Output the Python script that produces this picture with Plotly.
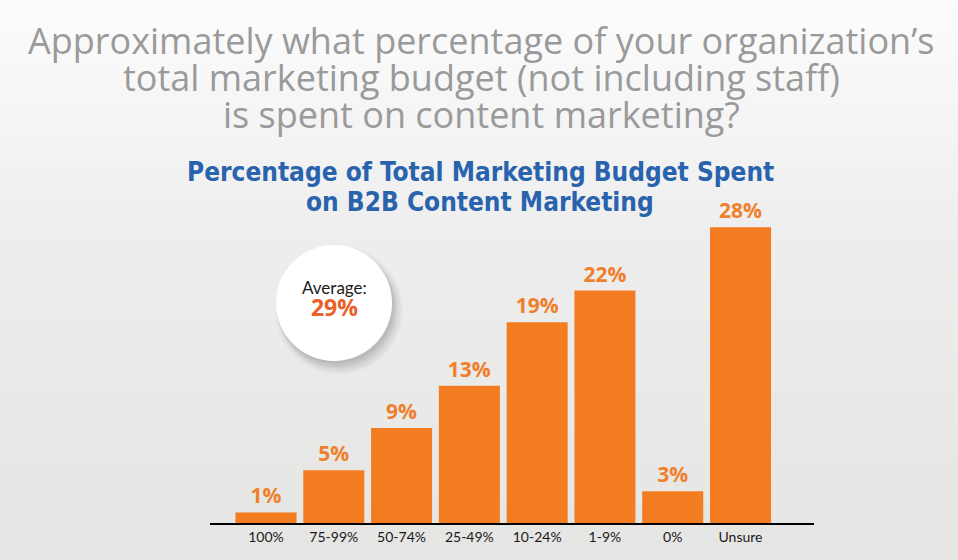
import plotly.graph_objects as go

categories = ["100%", "75-99%", "50-74%", "25-49%", "10-24%", "1-9%", "0%", "Unsure"]
values = [1, 5, 9, 13, 19, 22, 3, 28]
title_lines = [
    "Approximately what percentage of your organization’s",
    "total marketing budget (not including staff)",
    "is spent on content marketing?",
]
subtitle_lines = ["Percentage of Total Marketing Budget Spent", "on B2B Content Marketing"]
average_label = "Average:"
average_value = "29%"

W, H = 958, 560
BAR = "#f37b20"
LABEL = "#f07f2c"


def px(x):
    return x / W


def py(y):
    return 1 - y / H


fig = go.Figure()
fig.add_trace(go.Bar(
    x=list(range(len(categories))),
    y=values,
    marker=dict(color=BAR, line=dict(width=0)),
    texttemplate="%{y}%",
    textposition="outside",
    textfont=dict(family="Open Sans", size=21, color=LABEL, weight="bold"),
    cliponaxis=False,
    hoverinfo="skip",
    width=0.9,
))

shapes = []
# background gradient
n = 56
top = (252, 252, 252)
mid = (238, 238, 238)
bot = (229, 229, 227)
for i in range(n):
    t = i / (n - 1)
    if t < 0.4:
        u = t / 0.4
        c = tuple(int(round(top[k] + (mid[k] - top[k]) * u)) for k in range(3))
    else:
        u = (t - 0.4) / 0.6
        c = tuple(int(round(mid[k] + (bot[k] - mid[k]) * u)) for k in range(3))
    shapes.append(dict(type="rect", xref="paper", yref="paper", x0=0, x1=1,
                       y0=1 - (i + 1) / n - 0.002, y1=1 - i / n,
                       fillcolor="rgb(%d,%d,%d)" % c, line=dict(width=0), layer="below"))

# average circle with soft shadow
cx, cy, r = 334, 303, 58
for dx, dy, dr, op in [(5, 7, 6, 0.025), (5, 7, 4, 0.035), (4, 6, 2, 0.045),
                       (3, 5, 1, 0.05), (2, 3, 0, 0.06)]:
    shapes.append(dict(type="circle", xref="paper", yref="paper",
                       x0=px(cx - r - dr + dx), x1=px(cx + r + dr + dx),
                       y0=py(cy + r + dr + dy), y1=py(cy - r - dr + dy),
                       fillcolor="rgba(0,0,0,%s)" % op, line=dict(width=0), layer="above"))
shapes.append(dict(type="circle", xref="paper", yref="paper",
                   x0=px(cx - r), x1=px(cx + r), y0=py(cy + r), y1=py(cy - r),
                   fillcolor="#ffffff", line=dict(width=0), layer="above"))

annotations = []
for i, line in enumerate(title_lines):
    annotations.append(dict(text=line, x=px(481), y=py(41 + 37 * i), xref="paper", yref="paper",
                            xanchor="center", yanchor="middle", showarrow=False,
                            font=dict(family="Open Sans", size=36, color="#9a9a9a")))
for i, line in enumerate(subtitle_lines):
    annotations.append(dict(text=line, x=px(480), y=py(172 + 30 * i), xref="paper", yref="paper",
                            xanchor="center", yanchor="middle", showarrow=False,
                            font=dict(family="DejaVu Sans Condensed", size=26,
                                      color="#2a63ad", weight="bold")))
annotations.append(dict(
    text=average_label + "<br><span style='font-family:Open Sans;font-size:23px;color:#e9602b'><b>"
    + average_value + "</b></span>",
    x=px(cx), y=py(300), xref="paper", yref="paper",
    xanchor="center", yanchor="middle", showarrow=False,
    font=dict(family="Lato", size=17, color="#1a1a1a")))

fig.update_layout(
    width=W, height=H,
    margin=dict(l=0, r=0, t=0, b=0),
    paper_bgcolor="rgb(229,229,227)",
    plot_bgcolor="rgba(0,0,0,0)",
    showlegend=False,
    shapes=shapes,
    annotations=annotations,
    bargap=0.1,
    xaxis=dict(domain=[px(210), px(814)], range=[-0.826, 8.084],
               tickmode="array", tickvals=list(range(len(categories))), ticktext=categories,
               showline=True, linecolor="#000000", linewidth=2, showgrid=False, zeroline=False,
               ticks="", tickfont=dict(family="Lato", size=14, color="#1a1a1a"), fixedrange=True),
    yaxis=dict(domain=[py(523), py(206)], range=[0, 30], visible=False, fixedrange=True),
)

fig.write_html(
    "out.html",
    config={"displayModeBar": False},
    post_script="document.body.style.margin='0';document.body.style.overflow='hidden';",
)
